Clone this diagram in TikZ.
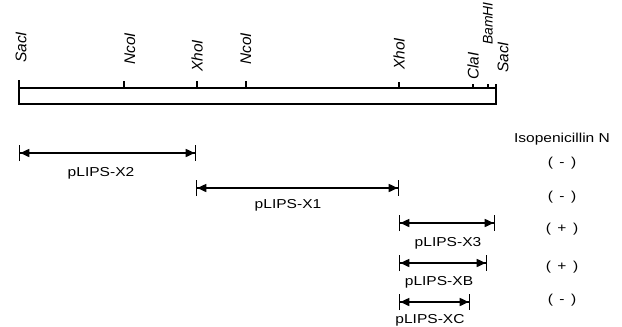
\documentclass[tikz,border=0pt]{standalone}
\usepackage{fontspec}
\setmainfont{Liberation Sans}
\newfontfamily\labfont{Liberation Sans}[FakeStretch=1.2]
\usetikzlibrary{arrows.meta}
\tikzset{
  barline/.style={line width=1.6bp},
  tick/.style={line width=1.3bp},
  site/.style={rotate=90, anchor=west, inner sep=0pt, font=\fontsize{15.5}{17}\selectfont\itshape},
  lab/.style={inner sep=0pt, font=\labfont\fontsize{13}{15}\selectfont},
  span/.style={line width=1.6bp,
    {Bar[width=16bp,line width=1.3bp]Triangle[length=9bp,width=8bp]}-{Triangle[length=9bp,width=8bp]Bar[width=16bp,line width=1.3bp]}},
}
\begin{document}
\begin{tikzpicture}[x=1bp,y=-1bp]
\useasboundingbox (0,0) rectangle (622,326);
% restriction map bar
\coordinate (L1) at (19,80);
\coordinate (L2) at (19,104);
\coordinate (R1) at (496,84);
\coordinate (R2) at (496,104);
\coordinate (T1) at (19,88);
\coordinate (T2) at (496,88);
\draw[barline] (L1) -- (L2) -- (R2) -- (R1);
\draw[barline] (T1) -- (T2);
% ticks
\foreach \n/\x/\t in {nA/124/81, xA/197/81, nB/246/81, xB/399/82, cA/473/84, bA/488/84}{
  \coordinate (\n t) at (\x,\t);
  \coordinate (\n b) at (\x,88);
  \draw[tick] (\n t) -- (\n b);
}
% site labels
\node[site] (s1) at (21,63) {SacI};
\node[site] (s2) at (130,65) {NcoI};
\node[site] (s3) at (197,72) {XhoI};
\node[site] (s4) at (246,65) {NcoI};
\node[site] (s5) at (399,70) {XhoI};
\node[site] (s6) at (473,80) {ClaI};
\node[site, font=\fontsize{14}{16}\selectfont\itshape] (s7) at (488,45) {BamHI};
\node[site] (s8) at (503,73) {SacI};
% fragments
\coordinate (a1) at (19,153);  \coordinate (a2) at (196,153);
\coordinate (b1) at (196,188); \coordinate (b2) at (399,188);
\coordinate (c1) at (399,223); \coordinate (c2) at (495,223);
\coordinate (d1) at (399,263); \coordinate (d2) at (487,263);
\coordinate (e1) at (399,302); \coordinate (e2) at (470,302);
\draw[span] (a1) -- (a2);
\draw[span] (b1) -- (b2);
\draw[span] (c1) -- (c2);
\draw[span] (d1) -- (d2);
\draw[span] (e1) -- (e2);
\node[lab] (fa) at (101,173) {pLIPS-X2};
\node[lab] (fb) at (288,205) {pLIPS-X1};
\node[lab] (fc) at (448,243) {pLIPS-X3};
\node[lab] (fd) at (439,282) {pLIPS-XB};
\node[lab] (fe) at (430,320) {pLIPS-XC};
% results
\node[lab] (hd) at (562,139) {Isopenicillin N};
\node[lab] (r1) at (562,163) {(\enspace-\enspace)};
\node[lab] (r2) at (562,197) {(\enspace-\enspace)};
\node[lab] (r3) at (562,229) {(\enspace+\enspace)};
\node[lab] (r4) at (562,267) {(\enspace+\enspace)};
\node[lab] (r5) at (562,300) {(\enspace-\enspace)};
\end{tikzpicture}
\end{document}
